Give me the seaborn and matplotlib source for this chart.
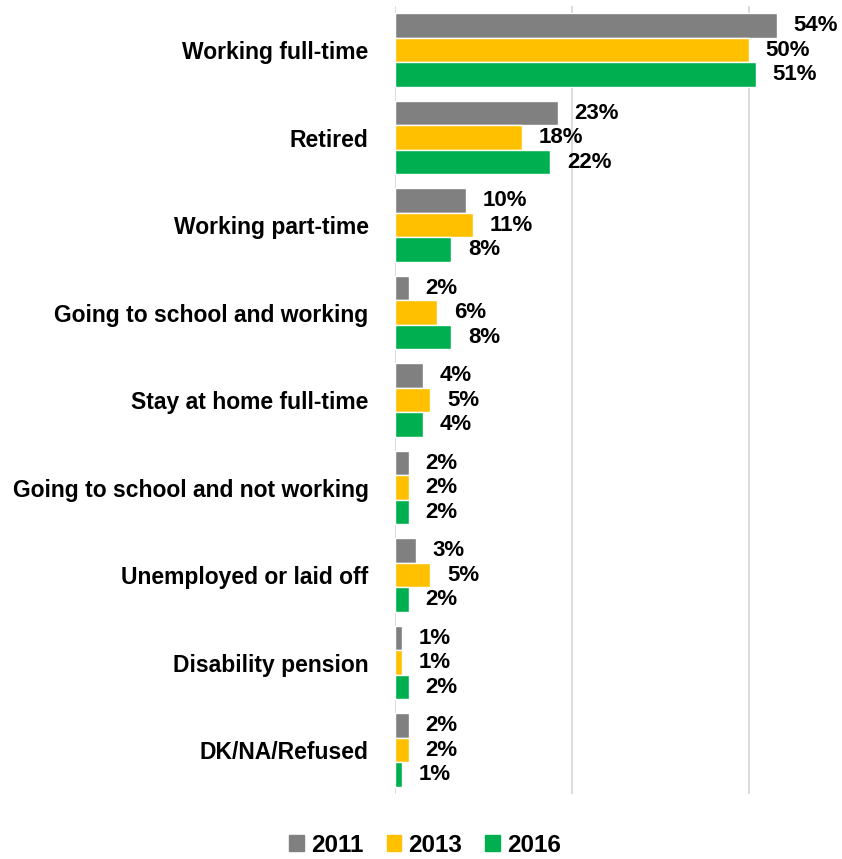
import pandas as pd
import matplotlib.pyplot as plt
import seaborn as sns

categories = [
    'Working full-time',
    'Retired',
    'Working part-time',
    'Going to school and working',
    'Stay at home full-time',
    'Going to school and not working',
    'Unemployed or laid off',
    'Disability pension',
    'DK/NA/Refused',
]
years = ['2011', '2013', '2016']
values_2011 = [54, 23, 10, 2, 4, 2, 3, 1, 2]
values_2013 = [50, 18, 11, 6, 5, 2, 5, 1, 2]
values_2016 = [51, 22, 8, 8, 4, 2, 2, 2, 1]
colors = ['#808080', '#FFC000', '#00B050']

rows = []
for year, vals in zip(years, [values_2011, values_2013, values_2016]):
    for cat, v in zip(categories, vals):
        rows.append({'category': cat, 'year': year, 'value': v})
df = pd.DataFrame(rows)

sns.set_style('white')
plt.rcParams['font.family'] = ['Liberation Sans', 'DejaVu Sans']
plt.rcParams['text.color'] = 'black'

fig = plt.figure(figsize=(8.42, 8.59), dpi=100)
ax = fig.add_axes([0.469, 0.0757, 0.504, 0.917])

sns.barplot(data=df, y='category', x='value', hue='year', order=categories,
            hue_order=years, palette=colors, width=0.84, saturation=1,
            orient='h', ax=ax, legend=False)

for container in ax.containers:
    ax.bar_label(container, fmt='%d%%', padding=12, fontsize=16,
                 fontweight='bold', color='black')

ax.set_xlim(0, 60)
ax.set_ylim(len(categories) - 0.5, -0.5)
ax.set_xticks([0, 25, 50])
ax.set_xticklabels([])
ax.grid(axis='x', color='#D9D9D9', linewidth=1.3)
ax.set_axisbelow(True)
for s in ['top', 'right', 'bottom', 'left']:
    ax.spines[s].set_visible(False)
ax.tick_params(axis='both', length=0)
ax.tick_params(axis='y', pad=19, labelcolor='black')
for lbl in ax.get_yticklabels():
    lbl.set_fontsize(16.5)
    lbl.set_fontweight('bold')
ax.set_xlabel('')
ax.set_ylabel('')

handles = [plt.Rectangle((0, 0), 1, 1, color=c) for c in colors]
leg = fig.legend(handles, years, loc='center', bbox_to_anchor=(0.505, 0.016),
                 ncol=3, frameon=False, handlelength=0.6, handleheight=0.6,
                 handletextpad=0.3, columnspacing=0.95,
                 prop={'size': 17.5, 'weight': 'bold'})

fig.savefig('out.png', dpi=100)
